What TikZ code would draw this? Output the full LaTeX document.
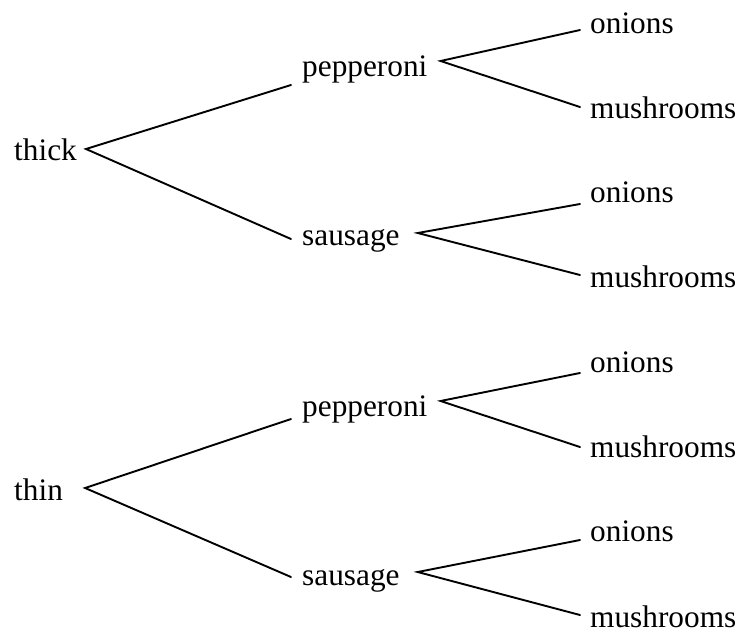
\documentclass[tikz,border=0pt]{standalone}
\usepackage{fontspec}
\setmainfont{Liberation Serif}
\begin{document}
\begin{tikzpicture}[x=1pt,y=-1pt,
  lbl/.style={anchor=base west,inner sep=0pt,font=\fontsize{31.3}{36}\selectfont},
  branch/.style={line width=1.9pt,line cap=round}]
\useasboundingbox (0,0) rectangle (741,635);
% labels
\node[lbl] (thick) at (14,160) {thick};
\node[lbl] (pepA) at (302,76) {pepperoni};
\node[lbl] (onA) at (590,33) {onions};
\node[lbl] (muA) at (590,118) {mushrooms};
\node[lbl] (sauA) at (302,245) {sausage};
\node[lbl] (onB) at (590,202) {onions};
\node[lbl] (muB) at (590,287) {mushrooms};
\node[lbl] (thin) at (14,500) {thin};
\node[lbl] (pepC) at (302,416) {pepperoni};
\node[lbl] (onC) at (590,372) {onions};
\node[lbl] (muC) at (590,457) {mushrooms};
\node[lbl] (sauD) at (302,585) {sausage};
\node[lbl] (onD) at (590,541) {onions};
\node[lbl] (muD) at (590,627) {mushrooms};
% connectors
\draw[branch] ([shift={(-11pt,-9pt)}]pepA.base west) -- ([shift={(9pt,11pt)}]thick.base east) -- ([shift={(-11pt,6pt)}]sauA.base west);
\draw[branch] ([shift={(-10pt,3pt)}]onA.base west) -- ([shift={(13pt,15pt)}]pepA.base east) -- ([shift={(-10pt,11pt)}]muA.base west);
\draw[branch] ([shift={(-10pt,-2pt)}]onB.base west) -- ([shift={(18pt,12pt)}]sauA.base east) -- ([shift={(-10pt,12pt)}]muB.base west);
\draw[branch] ([shift={(-11pt,-3pt)}]pepC.base west) -- ([shift={(22pt,12pt)}]thin.base east) -- ([shift={(-11pt,8pt)}]sauD.base west);
\draw[branch] ([shift={(-10pt,-1pt)}]onC.base west) -- ([shift={(13pt,15pt)}]pepC.base east) -- ([shift={(-10pt,10pt)}]muC.base west);
\draw[branch] ([shift={(-10pt,1pt)}]onD.base west) -- ([shift={(18pt,13pt)}]sauD.base east) -- ([shift={(-10pt,12pt)}]muD.base west);
\end{tikzpicture}
\end{document}
